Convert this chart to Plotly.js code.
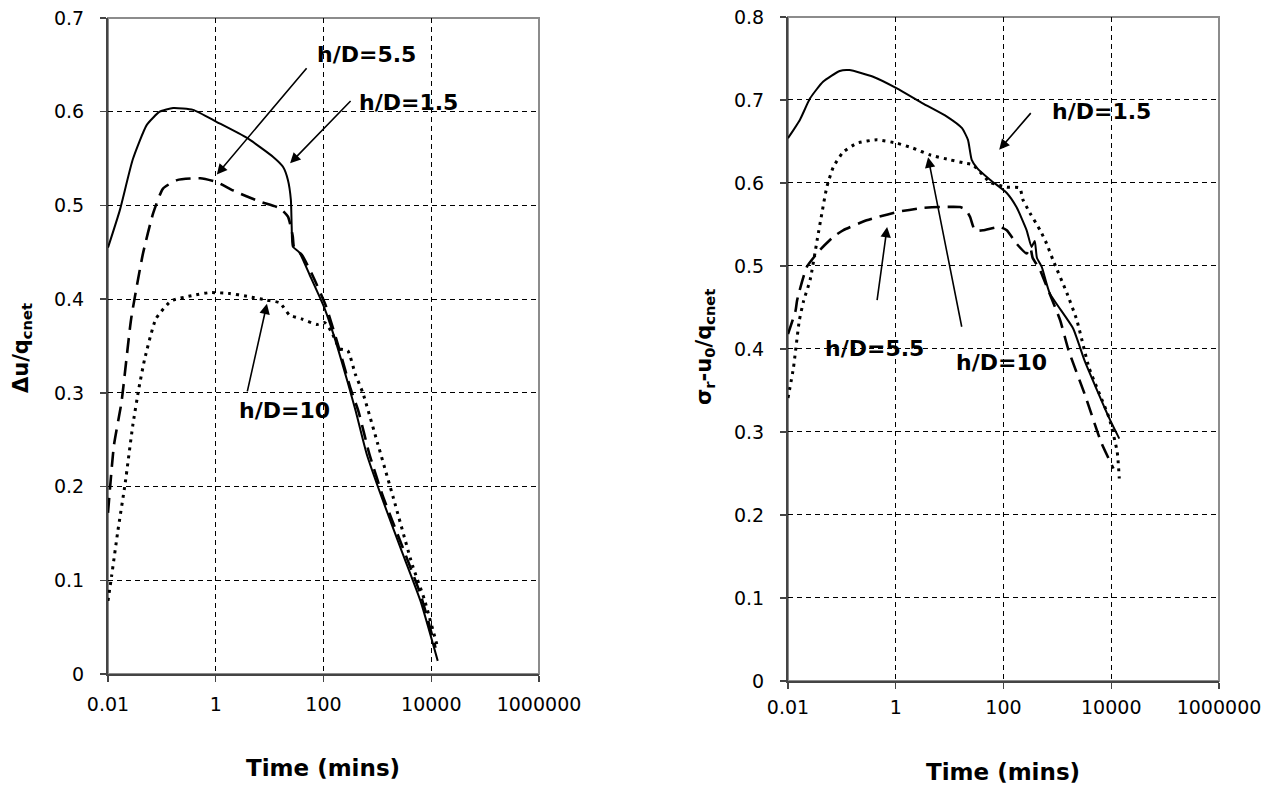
<!DOCTYPE html>
<html>
<head>
<meta charset="utf-8">
<script src="https://cdn.plot.ly/plotly-3.0.1.min.js"></script>
<style>html,body{margin:0;padding:0;background:#fff;}#chart{width:1274px;height:787px;}</style>
</head>
<body>
<div id="chart"></div>
<script>
// ---- Data (time in minutes, normalised values) ----
// Left chart: Δu/q_cnet
const tLeft15 = [0.01, 0.0166, 0.0288, 0.0525, 0.0912, 0.162, 0.38, 1.05, 3.8, 11.5, 17.8, 21.9, 24.8, 25.7, 26.9, 35.5, 56.2, 105, 158, 282, 398, 631, 1230, 2750, 6310, 13200];
const vLeft15 = [0.455, 0.495, 0.549, 0.586, 0.600, 0.604, 0.602, 0.589, 0.572, 0.552, 0.541, 0.527, 0.506, 0.477, 0.456, 0.450, 0.425, 0.390, 0.360, 0.311, 0.280, 0.235, 0.187, 0.133, 0.078, 0.014];

const tLeft55 = [0.01, 0.0129, 0.0178, 0.0269, 0.0447, 0.0692, 0.105, 0.191, 0.513, 1.05, 2.09, 6.61, 15.5, 21.9, 26.9, 28.2, 39.8, 63.1, 112, 200, 316, 447, 708, 1260, 2820, 6310, 12000];
const vLeft55 = [0.172, 0.244, 0.290, 0.379, 0.449, 0.492, 0.518, 0.527, 0.529, 0.525, 0.516, 0.504, 0.497, 0.488, 0.467, 0.456, 0.447, 0.425, 0.392, 0.345, 0.305, 0.280, 0.235, 0.190, 0.138, 0.085, 0.028];

const tLeft10 = [0.01, 0.0117, 0.0151, 0.0209, 0.0288, 0.0372, 0.0479, 0.0776, 0.148, 0.38, 0.776, 1.82, 3.8, 8.91, 15.5, 23.4, 38.9, 75.9, 105, 141, 200, 282, 389, 537, 1000, 2000, 4470, 7410, 13200];
const vLeft10 = [0.078, 0.105, 0.151, 0.204, 0.265, 0.304, 0.336, 0.379, 0.398, 0.404, 0.407, 0.406, 0.403, 0.399, 0.396, 0.383, 0.379, 0.373, 0.375, 0.365, 0.347, 0.345, 0.320, 0.300, 0.247, 0.187, 0.116, 0.080, 0.028];

// Right chart: σr-u0/q_cnet
const tRight15 = [0.01, 0.0166, 0.0257, 0.0447, 0.0912, 0.138, 0.38, 1.05, 3.16, 8.91, 17.0, 21.9, 25.7, 32.4, 56.2, 115, 174, 269, 331, 380, 417, 513, 724, 1950, 3240, 9120, 14100];
const vRight15 = [0.654, 0.676, 0.702, 0.722, 0.735, 0.736, 0.728, 0.714, 0.696, 0.680, 0.666, 0.652, 0.628, 0.618, 0.604, 0.588, 0.571, 0.543, 0.523, 0.530, 0.510, 0.499, 0.467, 0.425, 0.385, 0.317, 0.292];

const tRight55 = [0.01, 0.0138, 0.0148, 0.0224, 0.0389, 0.0692, 0.105, 0.288, 1.05, 3.16, 6.61, 15.5, 20.0, 24.0, 29.5, 41.7, 85.1, 115, 174, 269, 316, 347, 479, 537, 1120, 1620, 3240, 6460, 11000];
const vRight55 = [0.418, 0.446, 0.459, 0.499, 0.519, 0.535, 0.543, 0.555, 0.565, 0.570, 0.571, 0.571, 0.568, 0.559, 0.543, 0.543, 0.547, 0.543, 0.527, 0.515, 0.522, 0.510, 0.495, 0.487, 0.435, 0.398, 0.345, 0.288, 0.256];

const tRight10 = [0.01, 0.0126, 0.0162, 0.0195, 0.0257, 0.0347, 0.0427, 0.0525, 0.0692, 0.105, 0.191, 0.447, 1.05, 2.09, 4.27, 10, 19.1, 26.9, 56.2, 115, 200, 229, 309, 479, 631, 832, 1510, 2290, 3890, 9120, 12900, 14100];
const vRight10 = [0.341, 0.377, 0.434, 0.458, 0.483, 0.531, 0.564, 0.595, 0.619, 0.637, 0.648, 0.652, 0.648, 0.642, 0.634, 0.628, 0.624, 0.622, 0.601, 0.595, 0.594, 0.580, 0.564, 0.543, 0.527, 0.507, 0.467, 0.435, 0.377, 0.317, 0.276, 0.244];

const xTickVals = [0.01, 1, 100, 10000, 1000000];
const xTickText = ['0.01', '1', '100', '10000', '1000000'];
const seriesNames = ['h/D=1.5', 'h/D=5.5', 'h/D=10'];

// ---- Styling ----
const FONT = 'DejaVu Sans';
const solid = {color: '#000', width: 2, dash: 'solid', shape: 'spline', smoothing: 0.5};
const dashed = {color: '#000', width: 2.6, dash: '15px,8px', shape: 'spline', smoothing: 0.5};
const dotted = {color: '#000', width: 3, dash: '3px,5px', shape: 'spline', smoothing: 0.5};

function tr(x, y, line, name, xa, ya) {
  return {x: x, y: y, mode: 'lines', line: line, name: name, xaxis: xa, yaxis: ya, hoverinfo: 'skip'};
}

const traces = [
  tr(tLeft15, vLeft15, solid, seriesNames[0], 'x', 'y'),
  tr(tLeft55, vLeft55, dashed, seriesNames[1], 'x', 'y'),
  tr(tLeft10, vLeft10, dotted, seriesNames[2], 'x', 'y'),
  tr(tRight15, vRight15, solid, seriesNames[0], 'x2', 'y2'),
  tr(tRight55, vRight55, dashed, seriesNames[1], 'x2', 'y2'),
  tr(tRight10, vRight10, dotted, seriesNames[2], 'x2', 'y2')
];

function xAxis(domain, anchor, standoff) {
  return {
    domain: domain, anchor: anchor, type: 'log', range: [-2, 6],
    tickvals: xTickVals, ticktext: xTickText,
    showgrid: true, gridcolor: '#000', gridwidth: 1, griddash: '5px,4px',
    zeroline: false, showline: true, linecolor: '#444', linewidth: 2,
    ticks: 'outside', ticklen: 6, tickcolor: '#444', tickwidth: 1.5,
    tickfont: {family: FONT, size: 19, color: '#000'}, ticklabelstandoff: standoff,
    fixedrange: true
  };
}
function yAxis(domain, anchor, max) {
  return {
    domain: domain, anchor: anchor, range: [0, max], dtick: 0.1, tick0: 0,
    showgrid: true, gridcolor: '#000', gridwidth: 1, griddash: '5px,4px',
    zeroline: false, showline: true, linecolor: '#444', linewidth: 2,
    ticks: 'outside', ticklen: 6, tickcolor: '#444', tickwidth: 1.5,
    tickfont: {family: FONT, size: 19, color: '#000'}, ticklabelstandoff: 12,
    fixedrange: true
  };
}

const lblFont = {family: FONT, size: 22, color: '#000', weight: 'bold'};
function label(text, xr, yr, lx, ly) {
  return {text: text, xref: xr, yref: yr, x: lx, y: ly, showarrow: false, font: lblFont, xanchor: 'center', yanchor: 'middle'};
}
function arrow(xr, yr, hx, hy, tx, ty) {
  return {text: '', xref: xr, yref: yr, axref: xr, ayref: yr, x: hx, y: hy, ax: tx, ay: ty,
          showarrow: true, arrowhead: 2, arrowsize: 1.3, arrowwidth: 1.6, arrowcolor: '#000', standoff: 0, startstandoff: 0};
}

const annotations = [
  // left chart (positions in log10 for x)
  label('h/D=5.5', 'x', 'y', 2.79, 0.661),
  label('h/D=1.5', 'x', 'y', 3.57, 0.610),
  label('h/D=10', 'x', 'y', 1.28, 0.281),
  arrow('x', 'y', 0.02, 0.533, 1.71, 0.648),
  arrow('x', 'y', 1.38, 0.545, 2.53, 0.613),
  arrow('x', 'y', 0.95, 0.395, 0.58, 0.300),
  // right chart
  label('h/D=1.5', 'x2', 'y2', 3.81, 0.686),
  label('h/D=5.5', 'x2', 'y2', -0.39, 0.401),
  label('h/D=10', 'x2', 'y2', 1.97, 0.384),
  arrow('x2', 'y2', 1.92, 0.640, 2.53, 0.686),
  arrow('x2', 'y2', -0.16, 0.547, -0.35, 0.457),
  arrow('x2', 'y2', 0.60, 0.631, 1.23, 0.425),
  // axis titles
  {text: 'Time (mins)', xref: 'paper', yref: 'paper', x: 0.2535, y: 0.0241, showarrow: false,
   font: {family: FONT, size: 23, color: '#000', weight: 'bold'}, xanchor: 'center', yanchor: 'middle'},
  {text: 'Time (mins)', xref: 'paper', yref: 'paper', x: 0.7873, y: 0.0191, showarrow: false,
   font: {family: FONT, size: 23, color: '#000', weight: 'bold'}, xanchor: 'center', yanchor: 'middle'},
  {text: 'Δu/q<sub>cnet</sub>', xref: 'paper', yref: 'paper', x: 0.0173, y: 0.5578, showarrow: false, textangle: -90,
   font: {family: FONT, size: 21, color: '#000', weight: 'bold'}, xanchor: 'center', yanchor: 'middle'},
  {text: 'σ<sub>r</sub>-u<sub>0</sub>/q<sub>cnet</sub>', xref: 'paper', yref: 'paper', x: 0.5534, y: 0.5591, showarrow: false, textangle: -90,
   font: {family: FONT, size: 21, color: '#000', weight: 'bold'}, xanchor: 'center', yanchor: 'middle'}
];

const border = (xr, yr) => ({type: 'rect', xref: xr + ' domain', yref: yr + ' domain', x0: 0, x1: 1, y0: 0, y1: 1,
  line: {color: '#8c8c8c', width: 2}, layer: 'below'});

const layout = {
  width: 1274, height: 787,
  margin: {l: 0, r: 0, t: 0, b: 0, pad: 0},
  paper_bgcolor: '#fff', plot_bgcolor: '#fff',
  showlegend: false,
  xaxis: xAxis([0.08477, 0.42308], 'y', 6),
  yaxis: yAxis([0.14358, 0.97713], 'x', 0.7),
  xaxis2: xAxis([0.61852, 0.95683], 'y2', 2),
  yaxis2: yAxis([0.13469, 0.97840], 'x2', 0.8),
  shapes: [border('x', 'y'), border('x2', 'y2')],
  annotations: annotations
};

Plotly.newPlot('chart', traces, layout, {staticPlot: true, displayModeBar: false});
</script>
</body>
</html>
